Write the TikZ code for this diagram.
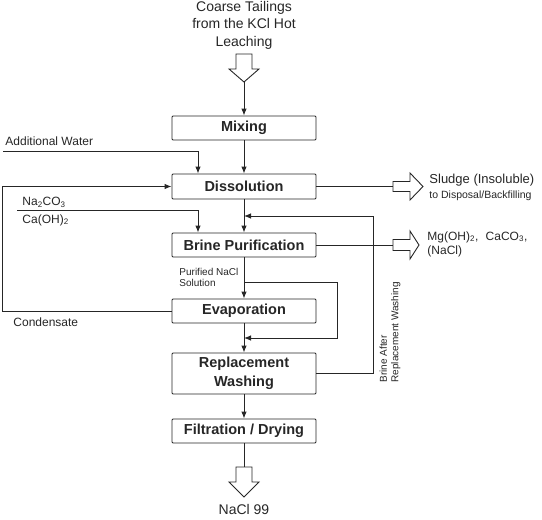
\documentclass[tikz,border=0pt]{standalone}
\usepackage{fontspec}
\setmainfont{Liberation Sans}
\usetikzlibrary{arrows.meta}
\begin{document}
\begin{tikzpicture}[x=1pt,y=-1pt,
  line width=0.9pt, draw=black!85,
  every node/.style={inner sep=0pt, text=black!85},
  procbox/.style={draw, rectangle, rounded corners=1pt, minimum width=144pt,
    font=\fontsize{14.5}{17}\selectfont\bfseries, align=center},
  flow/.style={-{Latex[length=7pt,width=5.5pt]}},
  openarrow/.style={draw, fill=white, line width=0.9pt, line join=miter},
  lbl/.style={font=\fontsize{12}{14}\selectfont, anchor=west},
  small/.style={font=\fontsize{10}{11.5}\selectfont}
]
\useasboundingbox (0,0) rectangle (542,520);

% process boxes
\node[procbox, minimum height=24pt] (mix) at (244,128) {Mixing};
\node[procbox, minimum height=25pt] (dis) at (244,186.5) {Dissolution};
\node[procbox, minimum height=24pt] (bp)  at (244,245) {Brine Purification};
\node[procbox, minimum height=24pt] (eva) at (244,311) {Evaporation};
\node[procbox, minimum height=41pt, font=\fontsize{14.5}{19}\selectfont\bfseries] (rw) at (244,373.5) {Replacement\\Washing};
\node[procbox, minimum height=24pt] (fd)  at (244,431) {Filtration / Drying};

% feed
\node[font=\fontsize{14}{17.5}\selectfont, align=center] (feed) at (244,25) {Coarse Tailings\\from the KCl Hot\\Leaching};
\draw[openarrow] (236,54) -- (252,54) -- (252,69) -- (259,69) -- (244,82) -- (229,69) -- (236,69) -- cycle;
\coordinate (topA) at (244,82);
\draw[flow] (topA) -- (mix.south |- mix.north);

% mixing -> dissolution
\draw[flow] (mix) -- (dis);

% additional water
\node[lbl] (awt) at (5,141) {Additional Water};
\coordinate (aw) at (3,151);
\draw[flow] (aw) -| ([xshift=-46pt]dis.north);

% condensate loop
\coordinate (cl) at (2,311);
\draw[flow] (eva.west) -- (cl) |- (dis.west);
\node[lbl] (cond) at (13,322) {Condensate};

% reagents
\node[lbl] (na) at (22,202) {Na\textsubscript{2}CO\textsubscript{3}};
\node[lbl] (ca) at (22,220) {Ca(OH)\textsubscript{2}};
\coordinate (rg) at (17,210.5);
\draw[flow] (rg) -| ([xshift=-46pt]bp.north);

% dissolution -> brine purification
\draw[flow] (dis) -- (bp);

% return brine
\coordinate (r1) at (373,373.5);
\coordinate (r2) at (373,216);
\coordinate (j1) at (244,216);
\draw[flow] (rw.east) -- (r1) -- (r2) -- (j1);
\node[small, rotate=90, align=left, anchor=south west] (brt) at (401,383) {Brine After\\Replacement Washing};

% brine purification -> evaporation
\draw[flow] (bp) -- (eva);
\node[small, align=left, anchor=west] (pur) at (179,277.5) {Purified NaCl\\Solution};

% bypass
\coordinate (b1) at (244,282);
\coordinate (b3) at (337,338);
\coordinate (b2) at (244,338);
\draw[flow] (b1) -| (b3) -- (b2);

% evaporation -> replacement washing -> filtration
\draw[flow] (eva) -- (rw);
\draw[flow] (rw) -- (fd);

% sludge
\coordinate (s0) at (393,186.5);
\draw (dis.east) -- (s0);
\draw[openarrow] (393,181.5) -- (410,181.5) -- (410,173) -- (423,186.5) -- (410,200) -- (410,191.5) -- (393,191.5) -- cycle;
\node[font=\fontsize{13}{15}\selectfont, anchor=west] (sl) at (429,180) {Sludge (Insoluble)};
\node[font=\fontsize{10.5}{12}\selectfont, anchor=west] (sl2) at (429,196) {to Disposal/Backfilling};

% precipitates
\coordinate (p0) at (393,245);
\draw (bp.east) -- (p0);
\draw[openarrow] (393,239.5) -- (410,239.5) -- (410,231) -- (419,245) -- (410,259) -- (410,250.5) -- (393,250.5) -- cycle;
\node[lbl] (mg) at (427,237) {Mg(OH)\textsubscript{2},\,\, CaCO\textsubscript{3},};
\node[lbl] (nacl) at (427,251) {(NaCl)};

% product
\coordinate (bA) at (244,467);
\draw (fd) -- (bA);
\draw[openarrow] (236,467) -- (252,467) -- (252,482) -- (259,482) -- (244,497) -- (229,482) -- (236,482) -- cycle;
\node[font=\fontsize{14}{17}\selectfont] (prod) at (244,509) {NaCl 99};
\end{tikzpicture}
\end{document}
